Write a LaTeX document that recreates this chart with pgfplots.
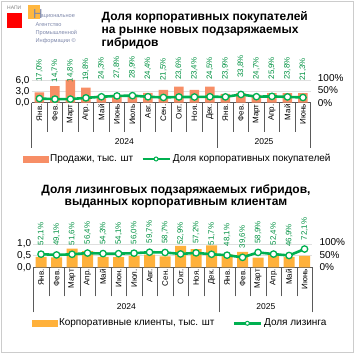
\documentclass[border=0pt]{standalone}
\usepackage{fontspec}
\setmainfont{Liberation Sans}
\usepackage{pgfplots}
\usepackage{pgfplotstable}
\pgfplotsset{compat=1.18}
\definecolor{salmon}{RGB}{247,142,102}
\definecolor{gold}{RGB}{255,177,59}
\definecolor{xlgreen}{RGB}{0,176,80}
\definecolor{lblgreen}{RGB}{0,145,65}
\definecolor{sep}{RGB}{90,90,90}
\definecolor{logotext}{RGB}{125,135,170}

\pgfplotstableread{
x sales share
0 2.8 17.0
1 4.5 14.7
2 6.2 14.8
3 4.1 19.8
4 2.0 24.3
5 2.1 27.8
6 2.2 28.9
7 2.7 24.4
8 3.5 21.5
9 4.4 23.6
10 3.5 23.4
11 4.4 24.5
12 2.4 23.9
13 2.6 33.8
14 2.1 24.7
15 2.6 25.9
16 2.6 23.8
17 2.6 21.3
}\topdata

\pgfplotstableread{
x corp lease
0 0.45 52.1
1 0.43 49.1
2 0.81 51.6
3 0.70 56.4
4 0.45 54.3
5 0.44 54.1
6 0.50 56.0
7 0.55 59.7
8 0.48 58.7
9 0.92 52.9
10 0.78 57.2
11 0.95 51.7
12 0.56 48.1
13 0.67 39.6
14 0.42 58.9
15 0.55 52.4
16 0.45 46.9
17 0.50 72.1
}\botdata

\pgfplotsset{
  leftbase/.style={
    anchor=south west, scale only axis, width=279pt,
    xmin=-0.5, xmax=17.5, ymin=0,
    axis x line*=bottom, axis y line*=left,
    y axis line style={draw=none},
    x axis line style={draw=sep, line width=0.6pt},
    ytick style={draw=none},
    yticklabel style={font=\fontsize{10}{10}\selectfont, text=black, inner sep=2pt},
    xtick={0,...,17},
    xticklabel style={rotate=90, anchor=east, font=\fontsize{8}{8}\selectfont, inner sep=1.5pt},
    major tick length=0pt,
    minor xtick={0.5,1.5,2.5,3.5,4.5,5.5,6.5,7.5,8.5,9.5,10.5,12.5,13.5,14.5,15.5,16.5},
    minor tick length=29pt,
    minor x tick style={draw=sep, line width=0.6pt},
    extra x ticks={-0.5,11.5,17.5}, extra x tick labels={},
    extra x tick style={major tick length=45pt, xtick style={draw=sep, line width=0.6pt}},
    tick align=outside,
    ymajorgrids, grid style={gray!25, line width=0.6pt},
    ybar, clip=false,
  },
  rightbase/.style={
    anchor=south west, scale only axis, width=279pt,
    xmin=-0.5, xmax=17.5, ymin=0,
    axis x line=none, axis y line*=right,
    y axis line style={draw=none},
    ytick={0,50,100}, yticklabels={0\%,50\%,100\%},
    ytick style={draw=none},
    yticklabel style={anchor=west, font=\fontsize{10}{10}\selectfont, text=black, inner sep=0pt, xshift=7pt},
    clip=false,
    legend style={draw=none, fill=none, legend columns=2, font=\fontsize{10}{10}\selectfont,
      /tikz/every even column/.append style={column sep=6pt}},
  },
  shareline/.style={
    color=xlgreen, line width=2.6pt, mark=*, mark size=3.2pt,
    mark options={fill=white, draw=xlgreen, line width=1.3pt},
    nodes near coords={\pgfmathprintnumber[fixed,fixed zerofill,precision=1,use comma,assume math mode=true]{\pgfplotspointmeta}\%},
    every node near coord/.append style={rotate=90, anchor=west, inner sep=0pt, outer ysep=0pt,
      font=\fontsize{7.9}{7.9}\selectfont, text=lblgreen},
    legend image code/.code={
      \draw[xlgreen, line width=2.6pt] (0pt,0pt) -- (27pt,0pt);
      \draw[xlgreen, fill=white, line width=1pt] (13.5pt,0pt) circle (2pt);},
  },
}

\begin{document}
\begin{tikzpicture}[x=1pt,y=1pt]
\useasboundingbox (0,0) rectangle (355,356);
\draw[gray!40, line width=1pt] (1.5,3) rectangle (353.5,354.5);

% logo
\node[anchor=north west, inner sep=0pt, font=\fontsize{5}{5}\selectfont, text=gray] at (7,350) {НАПИ};
\fill[red] (7,343) rectangle (22,328);
\fill[orange!75!yellow, opacity=0.75] (28,351) rectangle (40,337);
\node[anchor=north west, inner sep=0pt, font=\fontsize{13}{13}\selectfont, text=logotext] at (33,346.5) {Н};
\node[anchor=north west, inner sep=0pt, font=\fontsize{5.6}{8.3}\selectfont, text=logotext, align=left] at (35.5,341.5)
  {\hspace*{5pt}ациональное\\Агентство\\Промышленной\\Информации ©};

% titles
\node[anchor=north west, inner sep=0pt, align=left, font=\bfseries\fontsize{12}{13}\selectfont] at (101.5,345)
  {Доля корпоративных покупателей\\на рынке новых подзаряжаемых\\гибридов};
\node[anchor=center, inner sep=0pt, align=center, font=\bfseries\fontsize{12}{11.5}\selectfont] at (176,159.5)
  {Доля лизинговых подзаряжаемых гибридов,\\выданных корпоративным клиентам};

% ---- top chart
\begin{axis}[leftbase, at={(31.7pt,253.3pt)}, height=47.7pt, ymax=13,
  ytick={0,3,6}, yticklabels={{0,0},{3,0},{6,0}},
  xticklabels={Янв.,Фев.,Март,Апр.,Май,Июнь,Июль,Авг.,Сен.,Окт.,Ноя.,Дек.,Янв.,Фев.,Март,Апр.,Май,Июнь},
  bar width=9.5pt]
\addplot[fill=salmon, draw=none] table[x=x, y=sales] {\topdata};
\end{axis}
\begin{axis}[rightbase, at={(31.7pt,253.3pt)}, height=47.7pt, ymax=195.5,
  legend style={at={(0.523,-1.18)}, anchor=center}]
\addlegendimage{legend image code/.code={\fill[salmon] (0pt,-3pt) rectangle (25pt,3pt);}}
\addlegendentry{Продажи, тыс. шт}
\addplot[shareline, every node near coord/.append style={outer xsep=17pt}] table[x=x, y=share] {\topdata};
\addlegendentry{Доля корпоративных покупателей}
\end{axis}
\node[font=\fontsize{8.5}{8.5}\selectfont] at (124.4,214.3) {2024};
\node[font=\fontsize{8.5}{8.5}\selectfont] at (264,214.3) {2025};

% ---- bottom chart
\begin{axis}[leftbase, at={(33.3pt,88.5pt)}, height=42.5pt, ymax=1.816,
  ytick={0,0.5,1}, yticklabels={{0,0},{0,5},{1,0}},
  xticklabels={Янв.,Фев.,Март,Апр.,Май,Июн.,Июл.,Авг.,Сен.,Окт.,Ноя.,Дек.,Янв.,Фев.,Март,Апр.,Май,Июнь},
  bar width=11pt]
\addplot[fill=gold, draw=none] table[x=x, y=corp] {\botdata};
\end{axis}
\begin{axis}[rightbase, at={(33.3pt,88.5pt)}, height=42.5pt, ymax=166,
  legend style={at={(0.526,-1.313)}, anchor=center, /tikz/every even column/.append style={column sep=16pt}}]
\addlegendimage{legend image code/.code={\fill[gold] (0pt,-3pt) rectangle (25pt,3pt);}}
\addlegendentry{Корпоративные клиенты, тыс. шт}
\addplot[shareline, every node near coord/.append style={outer xsep=9pt}] table[x=x, y=lease] {\botdata};
\addlegendentry{Доля лизинга}
\end{axis}
\node[font=\fontsize{8.5}{8.5}\selectfont] at (126.3,49.3) {2024};
\node[font=\fontsize{8.5}{8.5}\selectfont] at (265.8,49.3) {2025};
\end{tikzpicture}
\end{document}
